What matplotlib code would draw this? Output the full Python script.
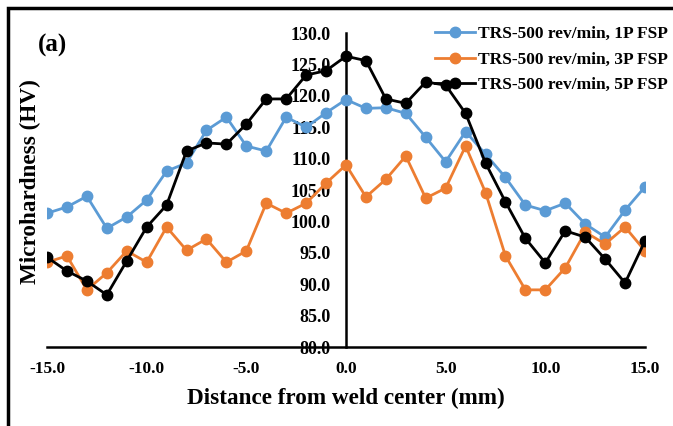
import numpy as np
import matplotlib
matplotlib.use('Agg')
import matplotlib.pyplot as plt
from matplotlib.patches import Rectangle

# Data
distance = list(range(-15, 16))
hv_1p = [101.3, 102.3, 104.0, 98.9, 100.7, 103.4, 108.0, 109.3, 114.5, 116.6,
         112.0, 111.2, 116.6, 115.0, 117.3, 119.4, 118.0, 118.1, 117.2, 113.4,
         109.5, 114.3, 110.7, 107.0, 102.6, 101.7, 102.9, 99.6, 97.5, 101.8, 105.5]
hv_3p = [93.5, 94.5, 89.1, 91.8, 95.3, 93.5, 99.1, 95.4, 97.2, 93.5,
         95.3, 102.9, 101.3, 102.9, 106.1, 109.0, 103.9, 106.7, 110.4, 103.7,
         105.3, 112.0, 104.6, 94.5, 89.1, 89.1, 92.6, 98.3, 96.4, 99.1, 95.3]
hv_5p = [94.3, 92.1, 90.5, 88.3, 93.7, 99.1, 102.6, 111.2, 112.5, 112.3,
         115.5, 119.5, 119.5, 123.3, 124.0, 126.3, 125.6, 119.5, 118.8, 122.2,
         121.7, 117.2, 109.3, 103.1, 97.3, 93.4, 98.5, 97.5, 94.0, 90.2, 96.9]
labels = ['TRS-500 rev/min, 1P FSP', 'TRS-500 rev/min, 3P FSP', 'TRS-500 rev/min, 5P FSP']
colors = ['#5B9BD5', '#ED7D31', '#000000']

plt.rcParams['font.family'] = ['Liberation Serif', 'DejaVu Serif']
plt.rcParams['font.weight'] = 'bold'

fig = plt.figure(figsize=(6.73, 4.26), dpi=100)
ax = fig.add_axes([47/673, 79/426, 598/673, 314/426])

for y, lab, c in zip([hv_1p, hv_3p, hv_5p], labels, colors):
    ax.plot(distance, y, color=c, lw=2, marker='o', ms=7.5, label=lab)

ax.set_xlim(-15, 15)
ax.set_ylim(80, 130)
ax.set_xticks(np.arange(-15, 16, 5))
ax.set_yticks(np.arange(80, 131, 5))
ax.set_xticklabels(['%.1f' % v for v in np.arange(-15, 16, 5)])
ax.set_yticklabels(['%.1f' % v for v in np.arange(80, 131, 5)])
ax.tick_params(axis='x', length=0, labelsize=12.5, pad=10)
ax.tick_params(axis='y', length=0, labelsize=13, pad=11)
for lab in ax.get_xticklabels() + ax.get_yticklabels():
    lab.set_fontweight('bold')

ax.spines['top'].set_visible(False)
ax.spines['right'].set_visible(False)
ax.spines['left'].set_position(('data', 0))
ax.spines['left'].set_linewidth(1.8)
ax.spines['bottom'].set_linewidth(1.8)
ax.spines['left'].set_zorder(1)

fig.text(30/673, 1 - 182/426, 'Microhardness (HV)', rotation=90, fontsize=16.7,
         fontweight='bold', ha='center', va='center')
fig.text(346/673, 1 - 398/426, 'Distance from weld center (mm)', fontsize=16.7,
         fontweight='bold', ha='center', va='center')
fig.text(38/673, 1 - 45/426, '(a)', fontsize=18, fontweight='bold', va='center')

leg = ax.legend(loc='upper right', bbox_to_anchor=(1.05, 1.045), frameon=False,
                fontsize=12.5, handlelength=2.3, handletextpad=0.2, labelspacing=0.55,
                borderaxespad=0)

fig.patches.append(Rectangle((8/673, -0.1), 1.2, (1 - 8/426) + 0.1, transform=fig.transFigure,
                             fill=False, lw=2.5, edgecolor='black'))

fig.savefig('out.png', dpi=100)
